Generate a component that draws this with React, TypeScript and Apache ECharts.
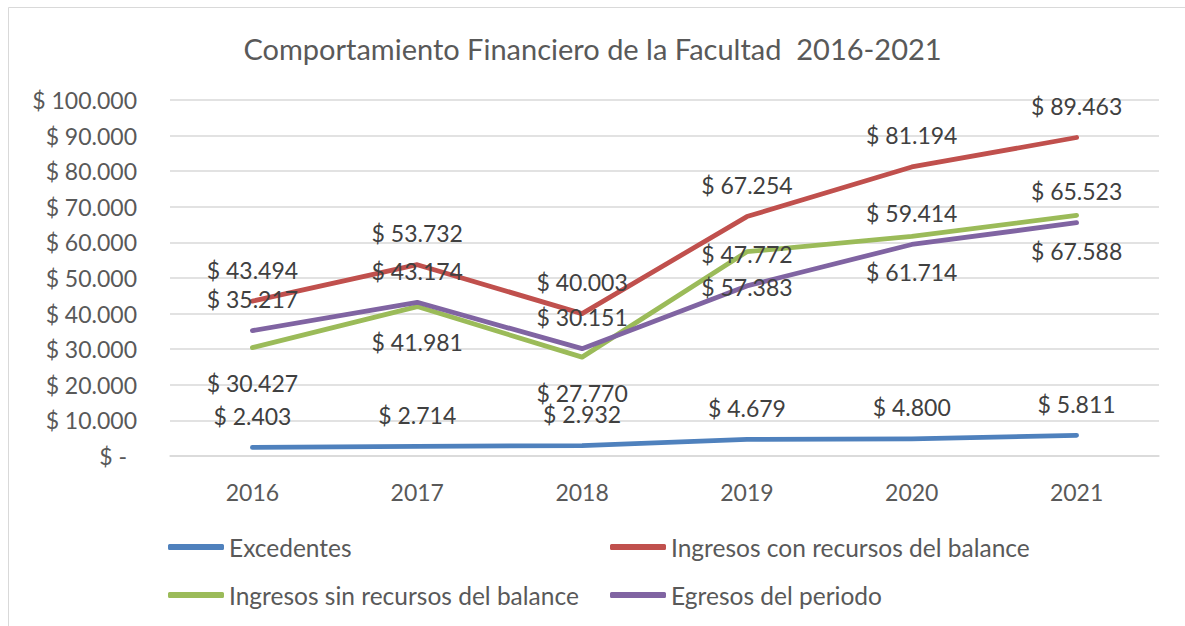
import React, { useEffect, useRef } from "react";
import * as echarts from "echarts";

const years = ["2016", "2017", "2018", "2019", "2020", "2021"];
const excedentes = [2403, 2714, 2932, 4679, 4800, 5811];
const ingresosCon = [43494, 53732, 40003, 67254, 81194, 89463];
const ingresosSin = [30427, 41981, 27770, 57383, 61714, 67588];
const egresos = [35217, 43174, 30151, 47772, 59414, 65523];

const names = [
  "Excedentes",
  "Ingresos con recursos del balance",
  "Ingresos sin recursos del balance",
  "Egresos del periodo",
];
const colors = ["#4F81BD", "#C0504D", "#9BBB59", "#8064A2"];

const FONT = "Lato";
const TEXT = "#595959";

function fmt(v: number): string {
  const s = Math.round(v).toString().replace(/\B(?=(\d{3})+(?!\d))/g, ".");
  return "$ " + s;
}

export default function App() {
  const ref = useRef<HTMLDivElement>(null);
  useEffect(() => {
    if (!ref.current) return;
    const chart = echarts.init(ref.current, undefined, { renderer: "svg" });
    const mk = (i: number, data: number[], pos: "top" | "bottom", dist: number) => ({
      name: names[i],
      type: "line",
      data,
      symbol: "circle",
      symbolSize: 2,
      itemStyle: { color: colors[i] },
      lineStyle: { color: colors[i], width: 4.8, cap: "round", join: "round" },
      label: {
        show: true,
        position: pos,
        distance: dist,
        color: "#404040",
        fontFamily: FONT,
        fontSize: 23,
        formatter: (p: any) => fmt(p.value),
      },
    });
    const legendBase = {
      orient: "horizontal",
      icon: "roundRect",
      itemWidth: 56,
      itemHeight: 6,
      itemGap: 10,
      textStyle: { color: TEXT, fontFamily: FONT, fontSize: 24.5, lineHeight: 30 },
    };
    chart.setOption({
      animation: false,
      backgroundColor: "#ffffff",
      title: {
        text: "Comportamiento Financiero de la Facultad  2016-2021",
        left: "center",
        top: 29,
        textStyle: { color: TEXT, fontFamily: FONT, fontSize: 29, fontWeight: "normal" },
      },
      grid: { left: 170, right: 26, top: 100, bottom: 170, containLabel: false },
      xAxis: {
        type: "category",
        data: years,
        boundaryGap: true,
        axisLine: { show: true, lineStyle: { color: "#d9d9d9", width: 1.5 } },
        axisTick: { show: false },
        axisLabel: { color: TEXT, fontFamily: FONT, fontSize: 23, margin: 24 },
      },
      yAxis: {
        type: "value",
        min: 0,
        max: 100000,
        interval: 10000,
        axisLine: { show: false },
        axisTick: { show: false },
        splitLine: { lineStyle: { color: "#d9d9d9", width: 1.5 } },
        axisLabel: {
          color: TEXT,
          fontFamily: FONT,
          fontSize: 23,
          margin: 33,
          formatter: (v: number) => (v === 0 ? "{z|$ -}" : fmt(v)),
          rich: { z: { color: TEXT, fontFamily: FONT, fontSize: 23, padding: [0, 10, 0, 0] } },
        },
      },
      legend: [
        { ...legendBase, left: 163, top: 527, data: [names[0]] },
        { ...legendBase, left: 605, top: 527, data: [names[1]] },
        { ...legendBase, left: 163, top: 575, data: [names[2]] },
        { ...legendBase, left: 605, top: 575, data: [names[3]] },
      ],
      graphic: [
        {
          type: "rect",
          shape: { x: 8.5, y: 7.5, width: 1200, height: 650 },
          style: { fill: "none", stroke: "#d9d9d9", lineWidth: 1 },
          silent: true,
        },
      ],
      series: [
        mk(0, excedentes, "top", 19),
        mk(1, ingresosCon, "top", 19),
        mk(2, ingresosSin, "bottom", 23),
        mk(3, egresos, "top", 19),
      ],
    });
    return () => chart.dispose();
  }, []);
  return (
    <div
      ref={ref}
      style={{ position: "fixed", left: 0, top: 0, width: 1185, height: 626 }}
    />
  );
}
